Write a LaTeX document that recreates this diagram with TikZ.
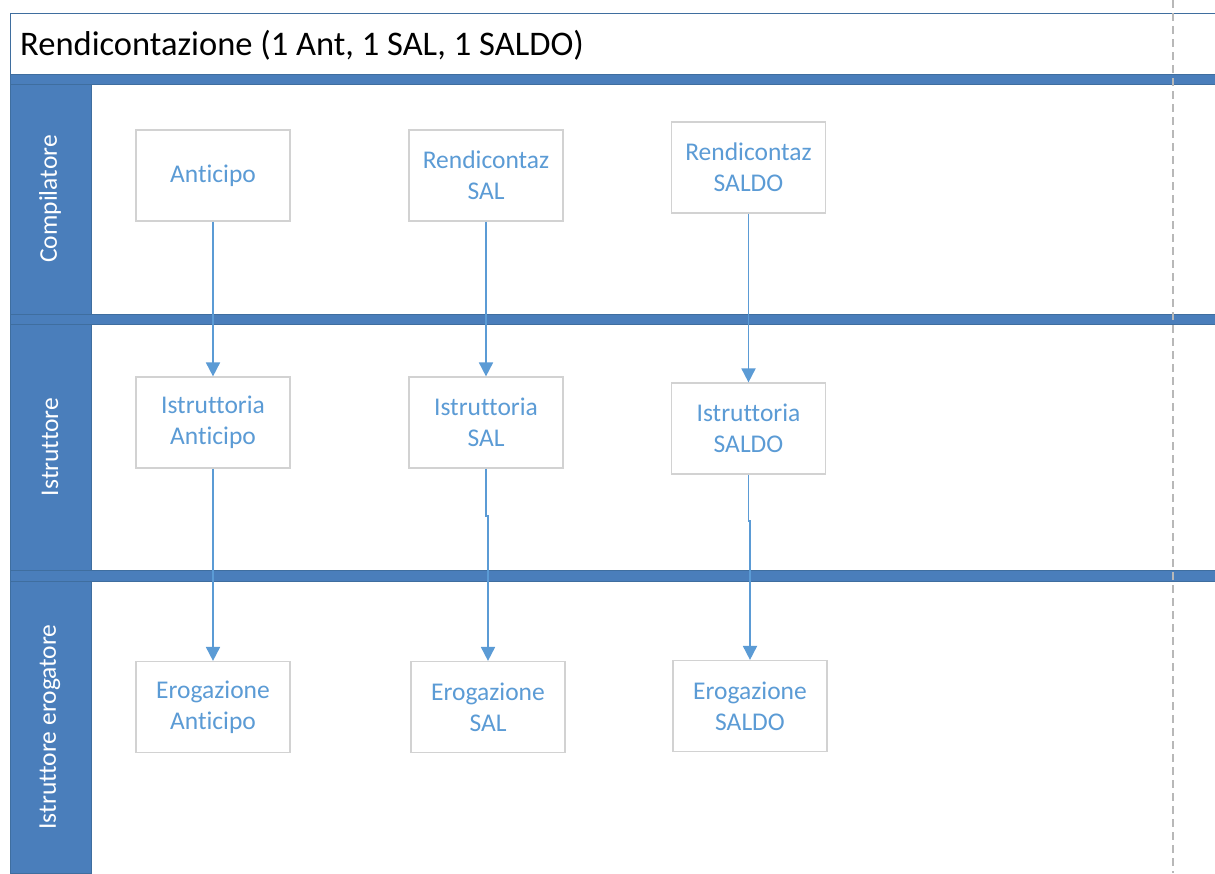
\documentclass[tikz,border=0pt]{standalone}
\usepackage{fontspec}
\setmainfont{Carlito}[Ligatures=NoCommon]
\usetikzlibrary{arrows.meta}
\definecolor{lane}{HTML}{4A7EBB}
\definecolor{laneline}{HTML}{3F6E9F}
\definecolor{txt}{HTML}{5B9BD5}
\definecolor{boxline}{HTML}{D2D2D2}
\definecolor{dashgray}{HTML}{B8B8B8}
\begin{document}
\begin{tikzpicture}[x=1pt,y=-1pt,
  stepbox/.style={draw=boxline, line width=1.2pt, fill=white, minimum width=154pt, minimum height=91pt,
     inner sep=0pt, text=txt, align=center, font=\fontsize{25.5}{31}\selectfont},
  band/.style={fill=lane, draw=laneline, line width=0.6pt},
  lanelabel/.style={rotate=90, text=white, font=\fontsize{25.5}{28}\selectfont},
  flow/.style={draw=txt, line width=1.8pt, -{Triangle[length=14pt,width=14pt]}}]
\useasboundingbox (0,0) rectangle (1215,873);
\fill[white] (0,0) rectangle (1215,873);
% title box
\draw[draw=laneline, line width=1pt] (10,13) rectangle (1220,74);
\node (title) [anchor=base west, inner sep=0pt, font=\fontsize{34.5}{40}\selectfont] at (20,55) {Rendicontazione (1 Ant, 1 SAL, 1 SALDO)};
% header column and bands
\path[band] (10,84) rectangle (91,873);
\path[band] (10,74) rectangle (1220,84);
\path[band] (10,314) rectangle (1220,324);
\path[band] (10,570) rectangle (1220,581);
\node (l1) [lanelabel] at (50,199) {Compilatore};
\node (l2) [lanelabel] at (50,447) {Istruttore};
\node (l3) [lanelabel] at (50,727) {Istruttore erogatore};
% boxes
\node (ant)  [stepbox] at (213,175.5) {Anticipo};
\node (rsal) [stepbox] at (486,175.5) {Rendicontaz\\SAL};
\node (rsaldo) [stepbox] at (748.5,167.5) {Rendicontaz\\SALDO};
\node (iant) [stepbox] at (213,422.5) {Istruttoria\\Anticipo};
\node (isal) [stepbox] at (486,422.5) {Istruttoria\\SAL};
\node (isaldo) [stepbox] at (748.5,428.5) {Istruttoria\\SALDO};
\node (eant) [stepbox] at (213,707) {Erogazione\\Anticipo};
\node (esal) [stepbox] at (488,707) {Erogazione\\SAL};
\node (esaldo) [stepbox] at (750,706) {Erogazione\\SALDO};
% connectors
\draw[flow] (ant.south) -- (iant.north);
\draw[flow] (rsal.south) -- (isal.north);
\draw[flow] (rsaldo.south) -- (isaldo.north);
\draw[flow] (iant.south) -- (eant.north);
\draw[flow] (isal.south) -- ++(0,47) -| (esal.north);
\draw[flow] (isaldo.south) -- ++(0,46) -| (esaldo.north);
% dashed boundary
\coordinate (dtop) at (1173,0);
\coordinate (dbot) at (1173,873);
\draw[dashgray, line width=1.2pt, dash pattern=on 8pt off 5pt] (dtop) -- (dbot);
\end{tikzpicture}
\end{document}
